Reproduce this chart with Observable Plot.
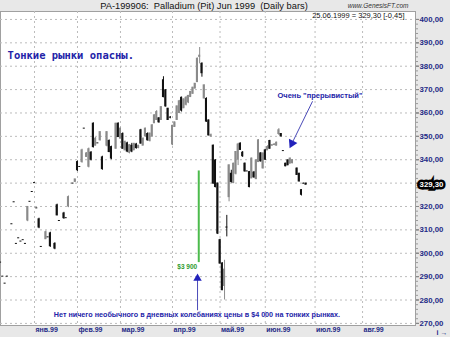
<!DOCTYPE html>
<html><head><meta charset="utf-8">
<script src="https://cdn.jsdelivr.net/npm/d3@7"></script>
<script src="https://cdn.jsdelivr.net/npm/@observablehq/plot@0.6"></script>
<style>
html,body{margin:0;padding:0;background:#e8e8e8;}
#chart svg{display:block;}
</style></head><body><div id="chart"></div>
<script>
// Trading calendar (Comex palladium, daily bars)
const firstDay = "1998-12-10";
const lastCalendarDay = "1999-08-31";
const holidays = ["1998-12-25","1999-01-01","1999-01-18","1999-02-15","1999-04-02","1999-05-31","1999-07-05"];
const monthStarts = ["1999-01","1999-02","1999-03","1999-04","1999-05","1999-06","1999-07","1999-08"];
const monthLabels = ["янв.99","фев.99","мар.99","апр.99","май.99","июн.99","июл.99","авг.99"];
const yTicks = [270,280,290,300,310,320,330,340,350,360,370,380,390,400];

// Daily OHLC, one entry per trading day from 1998-12-10 to 1999-06-25 (null = no trade)
const opens = [
  296,290,287,290,null,312.4,321.8,304,306.4,305,305.6,304,314,322,326.2,            // Dec
  330,319.2,314.5,302.7,null,306,306.8,308.5,null,304,320.5,313.8,null,317,315,320,null,329.8,330.5, // Jan
  339,336.9,339,353.3,341.2,337,343,355.4,346,347,348.3,341,null,346,348,345.4,null,344.7,355.4,     // Feb
  349,351,344,347,343,346,344,346.5,345,352.6,346,350,351,348,350,355.6,357,357.7,357,374,369.7,361.8,358, // Mar
  346.5,354,357,360,366.5,362,363.5,364.5,366.8,368.2,370.4,373.2,384,381,366.2,366,356.8,350,346,339.7,329.8, // Apr
  305.6,295.6,286,311,324,334,330,334,340,346.9,343,338.3,335,334.7,332,334.5,331.7,339,342.7,336.3, // May
  344,344,348,346,346.3,346,351,351,343.7,338.3,339.7,338.3,338.5,null,336.2,334,327,329.75,329.75   // Jun
];
const highs = [
  296,290,287,290,null,312.4,321.8,304,306.4,305,305.6,304,320,322,326.2,
  330,319.2,315,302.7,null,309.5,306.8,309,null,304.5,321,313.8,null,317.5,315,324.5,null,329.8,331.6,
  339.5,336.9,344.5,353.3,343,345,343.5,355.8,349.5,347,352,341.5,null,352,348.5,345.8,null,355.6,355.8,
  353.5,351.5,348,347.5,346.5,347,347,347,346,353,349.3,353.5,351.5,351.3,355,359.2,361,358,362.7,375.5,370,362,358.5,
  354.7,356,363,365.4,366.8,366,367,367.5,369.2,371,372.6,383.5,388,381.5,372,366.5,357,351,346.3,340,330,
  306,296,297,316.2,337.8,335.5,338.5,343.5,347,347.2,343.5,338.6,335,335,340.7,335,340,348.5,343,342.8,
  344.5,346,348.3,346.5,346.8,347.5,353.3,351.2,343.7,338.5,340,340.7,340,null,336.5,334.2,327.2,330,330
];
const lows = [
  296,290,287,290,null,312.4,321.8,304,306.4,305,305.6,304,313.5,322,326.2,
  330,319.2,310.5,302.7,null,306,306.8,302.5,null,301.5,316,313.8,null,314.5,315,319.5,null,329.8,330.5,
  335,336.9,338.5,353.3,341,336.5,339.5,345,346,347,348,335.5,null,345.5,343,340,null,344.5,349.5,
  349,344.5,344,343,342.5,343,344,344.5,344.7,346.7,346,349.7,348,347.6,349.6,355.5,356.8,355.6,356.8,366.5,362.5,356.8,357.5,
  346,354,356.8,359.7,360.4,362,363,364,366.8,368,370.4,373,381,375.3,366,356,350.2,349.6,329.5,328,308,
  295.3,284,280,307,322,330,329.8,333.5,337.5,344,341,334.7,335,328,332,332,331.5,339,339,336,
  339.7,344,344.5,345.8,346,346,350.4,349.7,343.7,337,337.5,338.3,338.3,null,333.3,330.5,324.5,329.7,329.3
];
const closes = [
  296,290,287,290,null,312.4,321.8,304,306.4,305,305.6,304,319.8,322,326.2,
  330,319.2,311,302.7,null,309,306.8,303,null,302,316.2,313.8,null,315,315,324,null,329.8,331.6,
  335.5,336.9,344,353.3,342.7,344.5,340,345.4,349,347,351.8,336,null,351.8,343.3,340.5,null,355.4,349.7,
  353.3,344.7,347.6,343.5,346.2,343.5,346.8,345,346,346.9,349,353.3,348.3,351.2,354.7,359,360.4,356,362.5,366.8,362.8,357,358,
  354.5,356,362.8,365,361,365.8,366.5,367.3,369,370.8,372.5,383.2,384.5,377,371.8,356.3,350.4,350.5,329.8,328.3,308.4,
  295.6,284.2,293,311,337.6,330.5,338.3,343.3,346.5,344.2,341.5,335,335,328.3,340.5,332.5,339.7,348.3,339.3,342.7,
  340,345.4,344.7,346.2,346.5,347.3,352.6,350,343.7,337.2,337.6,340.5,339.8,null,333.5,330.7,325,329.75,329.3
];

const parse = d3.utcParse("%Y-%m-%d");
const fmt = d3.utcFormat("%Y-%m-%d");
const days = [];
for (let d = parse(firstDay); d <= parse(lastCalendarDay); d = d3.utcDay.offset(d, 1)) {
  const wd = d.getUTCDay();
  if (wd === 0 || wd === 6 || holidays.includes(fmt(d))) continue;
  days.push(d);
}
const monthIdx = monthStarts.map(m => days.findIndex(d => fmt(d).startsWith(m)));
const bars = opens.map((o, i) => ({i, o, h: highs[i], l: lows[i], c: closes[i]})).filter(d => d.o != null);
const upBars = bars.filter(d => d.c > d.o);
const downBars = bars.filter(d => !(d.c > d.o));
const last = bars[bars.length - 1];
const prev = bars[bars.length - 2];
const comma = v => v.toFixed(2).replace(".", ",");
const lastDate = d3.utcFormat("%d.%m.%Y")(days[last.i]);
const header = `${lastDate} = ${comma(last.c)} [${comma(last.c - prev.c)}]`;
// the current-price box replaces the nearest tick label
const labelTicks = yTicks.filter(v => Math.abs(v - last.c) > 4);

const navy = "#1e2a86";
const blue = "#2323a8";
const grid = {stroke: "#bcbcbc", strokeOpacity: 1, strokeDasharray: "2,3"};
const minor = d3.range(270, 401, 2);

const chart = Plot.plot({
  width: 450, height: 337,
  marginTop: 11, marginBottom: 12, marginLeft: 0, marginRight: 35,
  x: {domain: [-0.03, 183.4], axis: null},
  y: {domain: [269.1, 403.4], axis: null},
  style: {background: "#e8e8e8", fontFamily: "'Liberation Sans', Arial, sans-serif", overflow: "visible"},
  marks: [
    Plot.frame({fill: "white", stroke: "#a0a0a0"}),
    Plot.gridY(yTicks, grid),
    Plot.gridX(monthIdx, grid),
    Plot.axisY(minor, {anchor: "right", tickSize: 2, tickFormat: () => "", stroke: "#999"}),
    Plot.axisY(yTicks, {anchor: "right", tickSize: 3, tickFormat: () => "", stroke: "#888"}),
    Plot.axisY(labelTicks, {anchor: "right", tickSize: 3, tickPadding: 1, tickFormat: comma,
      stroke: "#888", fill: navy, fontSize: 7.8, fontWeight: "bold"}),
    Plot.axisX(monthIdx, {anchor: "bottom", tickSize: 0, tickPadding: 2,
      tickFormat: d => monthLabels[monthIdx.indexOf(d)], textAnchor: "start", dx: 1,
      fill: navy, fontSize: 7, fontWeight: "bold"}),
    // candles
    Plot.ruleX(upBars, {x: "i", y1: "l", y2: "h", stroke: "#8a8a8a", strokeWidth: 1}),
    Plot.ruleX(downBars, {x: "i", y1: "l", y2: "h", stroke: "#111", strokeWidth: 1}),
    Plot.rect(upBars, {x1: d => d.i - 0.45, x2: d => d.i + 0.45, y1: "o", y2: "c", fill: "#8a8a8a", insetTop: -0.5, insetBottom: -0.5}),
    Plot.rect(downBars, {x1: d => d.i - 0.45, x2: d => d.i + 0.45, y1: "c", y2: "o", fill: "#111", insetTop: -0.5, insetBottom: -0.5}),
    // titles
    Plot.text(["PA-199906:\u00a0 Palladium (Pit) Jun 1999\u00a0 (Daily bars)"], {frameAnchor: "top", dx: -4, dy: -5, lineAnchor: "middle", fontSize: 9.3, fill: "#111"}),
    Plot.text(["www.GenesisFT.com"], {frameAnchor: "top-right", dx: -7, dy: -6, lineAnchor: "middle", textAnchor: "end", fontSize: 6.5, fontStyle: "italic", fill: "#333"}),
    Plot.text([header], {frameAnchor: "top-right", dx: -11, dy: 4, lineAnchor: "middle", textAnchor: "end", fontSize: 7.5, fill: "#111"}),
    Plot.text([last.c], {y: d => d, frameAnchor: "right", dx: 16, textAnchor: "middle", text: comma, fill: "white", stroke: "black", strokeWidth: 5, strokeLinejoin: "miter", fontSize: 7.8, fontWeight: "bold"}),
    // annotations
    Plot.text(["Тонкие рынки опасны."], {x: 3.1, y: 384.6, textAnchor: "start", fontFamily: "'DejaVu Sans Mono', monospace", fontWeight: "bold", fontSize: 10.5, fill: blue}),
    Plot.text(["Очень \"прерывистый\""], {x: 122.4, y: 367.3, textAnchor: "start", fontWeight: "bold", fontSize: 7.5, fill: blue}),
    Plot.link([0], {x1: 137.9, y1: 365, x2: 129.3, y2: 348, stroke: "#4a4ab8", strokeWidth: 1}),
    Plot.dot([0], {x: 128.8, y: 347, symbol: "triangle2", r: 4.5, rotate: 206, fill: "#2222bb", stroke: "none"}),
    Plot.ruleX([87.6], {y1: 296, y2: 335.2, stroke: "#4cbb4c", strokeWidth: 2}),
    Plot.text(["$3 900"], {x: 86.9, y: 294.2, textAnchor: "end", fontSize: 6.5, fontWeight: "bold", fill: "#2e9a2e"}),
    Plot.ruleX([87.06], {y1: 275.4, y2: 288.5, stroke: "#4a4ab8", strokeWidth: 1}),
    Plot.dot([0], {x: 87.06, y: 289.3, symbol: "triangle2", r: 4, fill: "#2222bb", stroke: "none"}),
    Plot.text(["Нет ничего необычного в дневных колебаниях цены в $4 000 на тонких рынках."], {x: 86.8, y: 273.8, textAnchor: "middle", fontWeight: "bold", fontSize: 7.2, fill: blue})
  ]
});
document.getElementById("chart").append(chart);
</script>
</body></html>
